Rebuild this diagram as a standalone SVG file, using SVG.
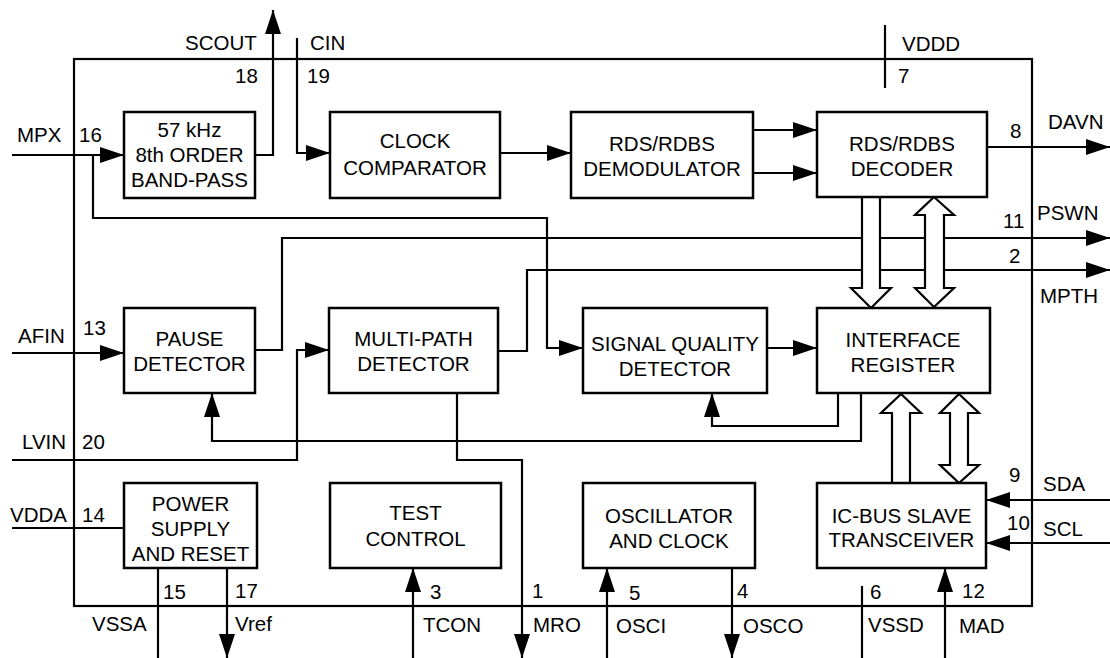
<svg xmlns="http://www.w3.org/2000/svg" width="1110" height="658" viewBox="0 0 1110 658">
<style>
text{font-family:"Liberation Sans",Arial,sans-serif;font-size:20.5px;fill:#000}
.c{text-anchor:middle}
.box{fill:#fff;stroke:#000;stroke-width:2.5}
.ln{fill:none;stroke:#000;stroke-width:2.2}
.ar{marker-end:url(#ah)}
.hol{fill:#fff;stroke:#000;stroke-width:2.2;stroke-linejoin:miter}
</style>
<defs>
<marker id="ah" markerUnits="userSpaceOnUse" markerWidth="24" markerHeight="16" viewBox="0 0 24 16" refX="24" refY="8" orient="auto">
<path d="M0,0 L24,8 L0,16 z" fill="#000"/>
</marker>
</defs>
<rect x="74" y="59" width="958" height="547" class="ln"/>
<g id="connectors">
<path class="ln ar" d="M12,155 H124"/>
<path class="ln ar" d="M93,155 V218 H547 V348 H583"/>
<path class="ln ar" d="M255,155 H273 V10"/>
<path class="ln ar" d="M297,38 V153 H330"/>
<path class="ln ar" d="M500,153 H571"/>
<path class="ln ar" d="M753,130 H817"/>
<path class="ln ar" d="M753,173 H817"/>
<path class="ln ar" d="M987,147 H1110"/>
<path class="ln" d="M885,25 V88"/>
<path class="ln ar" d="M255,350 H282 V238 H1110"/>
<path class="ln ar" d="M498,351 H527 V270 H1110"/>
<path class="ln ar" d="M12,353 H124"/>
<path class="ln ar" d="M12,460 H297 V350 H329"/>
<path class="ln ar" d="M767,348 H817"/>
<path class="ln ar" d="M861,393 V441 H212 V393"/>
<path class="ln ar" d="M838,393 V426 H712 V393"/>
<path class="ln ar" d="M457,393 V460 H522 V658"/>
<path class="ln" d="M12,528 H124"/>
<path class="ln" d="M158,568 V658"/>
<path class="ln ar" d="M227,568 V658"/>
<path class="ln ar" d="M413,658 V568"/>
<path class="ln ar" d="M607,658 V568"/>
<path class="ln ar" d="M732,568 V658"/>
<path class="ln" d="M862,586 V658"/>
<path class="ln ar" d="M945,658 V568"/>
<path class="ln ar" d="M1110,500 H986"/>
<path class="ln ar" d="M1110,543 H986"/>
<path class="hol" d="M862,197 V288 H851 L871,308 L891,288 H880 V197 Z"/>
<path class="hol" d="M934,197 L954,215 H944 V288 H954 L934,307 L915,288 H925 V215 H915 Z"/>
<path class="hol" d="M901,394 L921,413 H910 V483 H892 V413 H881 Z"/>
<path class="hol" d="M959,394 L979,413 H968 V465 H979 L959,483 L940,465 H950 V413 H940 Z"/>
</g>
<g id="bandpass"><rect class="box" x="124" y="112" width="131" height="86"/><text class="c" x="189.5" y="137">57 kHz</text><text class="c" x="189.5" y="162">8th ORDER</text><text class="c" x="189.5" y="187">BAND-PASS</text></g>
<g id="clockcomp"><rect class="box" x="330" y="112" width="170" height="86"/><text class="c" x="415" y="148">CLOCK</text><text class="c" x="415" y="175">COMPARATOR</text></g>
<g id="demod"><rect class="box" x="571" y="112" width="182" height="86"/><text class="c" x="662" y="151">RDS/RDBS</text><text class="c" x="662" y="176">DEMODULATOR</text></g>
<g id="decoder"><rect class="box" x="817" y="112" width="170" height="85"/><text class="c" x="902" y="151">RDS/RDBS</text><text class="c" x="902" y="176">DECODER</text></g>
<g id="pause"><rect class="box" x="124" y="308" width="131" height="85"/><text class="c" x="189.5" y="346">PAUSE</text><text class="c" x="189.5" y="371">DETECTOR</text></g>
<g id="multipath"><rect class="box" x="329" y="308" width="169" height="85"/><text class="c" x="413.5" y="346">MULTI-PATH</text><text class="c" x="413.5" y="371">DETECTOR</text></g>
<g id="sigqual"><rect class="box" x="583" y="308" width="184" height="85"/><text class="c" x="675" y="351">SIGNAL QUALITY</text><text class="c" x="675" y="376">DETECTOR</text></g>
<g id="ifreg"><rect class="box" x="817" y="308" width="173" height="85"/><text class="c" x="903" y="347">INTERFACE</text><text class="c" x="903" y="372">REGISTER</text></g>
<g id="power"><rect class="box" x="124" y="483" width="133" height="85"/><text class="c" x="190.5" y="511">POWER</text><text class="c" x="190.5" y="536">SUPPLY</text><text class="c" x="190.5" y="561">AND RESET</text></g>
<g id="test"><rect class="box" x="330" y="483" width="171" height="85"/><text class="c" x="415.5" y="520">TEST</text><text class="c" x="415.5" y="546">CONTROL</text></g>
<g id="osc"><rect class="box" x="583" y="483" width="172" height="85"/><text class="c" x="669" y="523">OSCILLATOR</text><text class="c" x="669" y="548">AND CLOCK</text></g>
<g id="icbus"><rect class="box" x="817" y="483" width="169" height="85"/><text class="c" x="901.5" y="523">IC-BUS SLAVE</text><text class="c" x="901.5" y="547">TRANSCEIVER</text></g>
<g id="labels">
<text x="17" y="142">MPX</text><text x="79" y="142">16</text>
<text x="185" y="50">SCOUT</text><text x="235" y="83">18</text>
<text x="310" y="50">CIN</text><text x="307" y="83">19</text>
<text x="902" y="51">VDDD</text><text x="898" y="83">7</text>
<text x="1010" y="138">8</text><text x="1048" y="129">DAVN</text>
<text x="1003" y="228">11</text><text x="1037" y="220">PSWN</text>
<text x="1009" y="263">2</text><text x="1040" y="303">MPTH</text>
<text x="18" y="343">AFIN</text><text x="83" y="335">13</text>
<text x="22" y="449">LVIN</text><text x="82" y="449">20</text>
<text x="10" y="522">VDDA</text><text x="82" y="522">14</text>
<text x="163" y="599">15</text><text x="235" y="598">17</text>
<text x="92" y="631">VSSA</text><text x="235" y="631">Vref</text>
<text x="430" y="599">3</text><text x="423" y="632">TCON</text>
<text x="532" y="598">1</text><text x="533" y="632">MRO</text>
<text x="629" y="600">5</text><text x="616" y="633">OSCI</text>
<text x="737" y="598">4</text><text x="743" y="633">OSCO</text>
<text x="870" y="599">6</text><text x="868" y="632">VSSD</text>
<text x="962" y="598">12</text><text x="959" y="633">MAD</text>
<text x="1009" y="482">9</text><text x="1043" y="491">SDA</text>
<text x="1007" y="530">10</text><text x="1043" y="536">SCL</text>
</g>
</svg>
